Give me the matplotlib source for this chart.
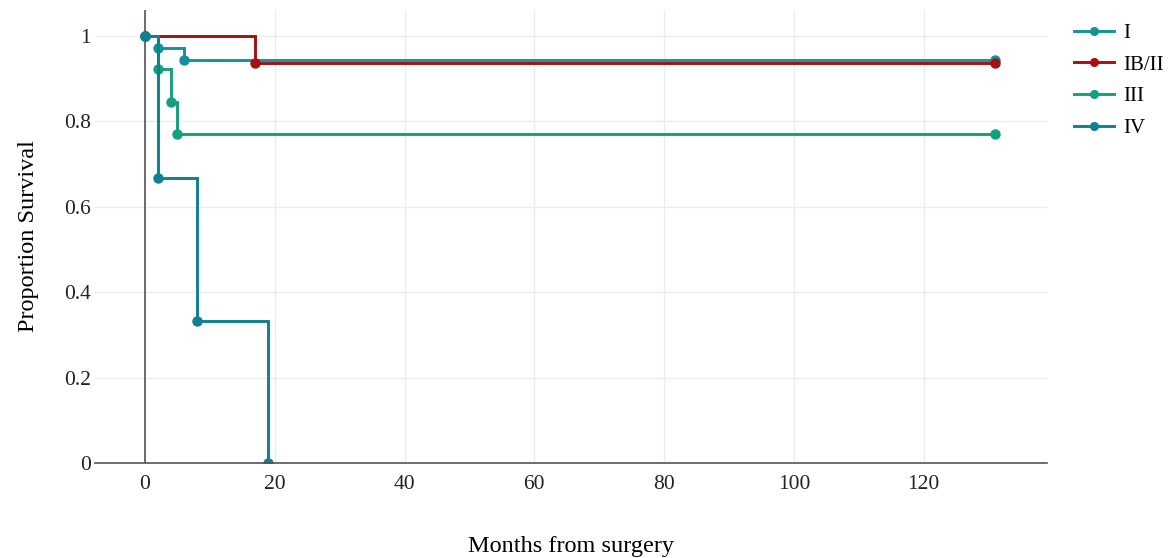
import matplotlib.pyplot as plt

plt.rcParams['font.family'] = ['Liberation Serif', 'DejaVu Serif']

# Kaplan-Meier steps per stage: event times (months) and survival after each step
stage_names = ['I', 'IB/II', 'III', 'IV']
times_I = [0, 2, 6, 131]
surv_I = [1.0, 35 / 36, 34 / 36, 34 / 36]
times_IB = [0, 17, 131]
surv_IB = [1.0, 15 / 16, 15 / 16]
times_III = [0, 2, 4, 5, 131]
surv_III = [1.0, 12 / 13, 11 / 13, 10 / 13, 10 / 13]
times_IV = [0, 2, 8, 19]
surv_IV = [1.0, 2 / 3, 1 / 3, 0.0]

colors = ['#14929c', '#a8100f', '#13a07c', '#0e8090']

fig = plt.figure(figsize=(11.69, 5.58), dpi=100)
ax = fig.add_axes([0.0813, 0.1703, 0.8143, 0.812])

curves = [(times_I, surv_I), (times_IB, surv_IB), (times_III, surv_III), (times_IV, surv_IV)]
for (t, s), name, c in zip(curves, stage_names, colors):
    ax.plot(t, s, drawstyle='steps-post', color=c, lw=2.1, marker='o', ms=6.5,
            label=name, solid_joinstyle='miter')

ax.set_xlim(-7.7, 139)
ax.set_ylim(0, 1.061)
ax.set_xticks([0, 20, 40, 60, 80, 100, 120])
ax.set_yticks([0, 0.2, 0.4, 0.6, 0.8, 1])
ax.set_yticklabels(['0', '0.2', '0.4', '0.6', '0.8', '1'])
ax.tick_params(length=0, labelsize=15.5, colors='#222222')
ax.tick_params(axis='x', pad=9)
ax.tick_params(axis='y', pad=3)
ax.grid(True, color='#ececec', lw=1)
ax.set_axisbelow(True)
for side in ['top', 'right', 'left']:
    ax.spines[side].set_visible(False)
ax.spines['bottom'].set_color('#555555')
ax.spines['bottom'].set_linewidth(1.2)
ax.axvline(0, color='#555555', lw=1.2, zorder=1.5)

ax.set_xlabel('Months from surgery', fontsize=17.5, labelpad=30)
ax.set_ylabel('Proportion Survival', fontsize=17.5, labelpad=18)

fig.legend(loc='upper left', bbox_to_anchor=(0.919, 0.958), frameon=False,
           fontsize=15, handlelength=1.9, labelspacing=0.58, handletextpad=0.45,
           borderpad=0, borderaxespad=0, markerscale=0.85)

fig.savefig('out.png', dpi=100, facecolor='white')
